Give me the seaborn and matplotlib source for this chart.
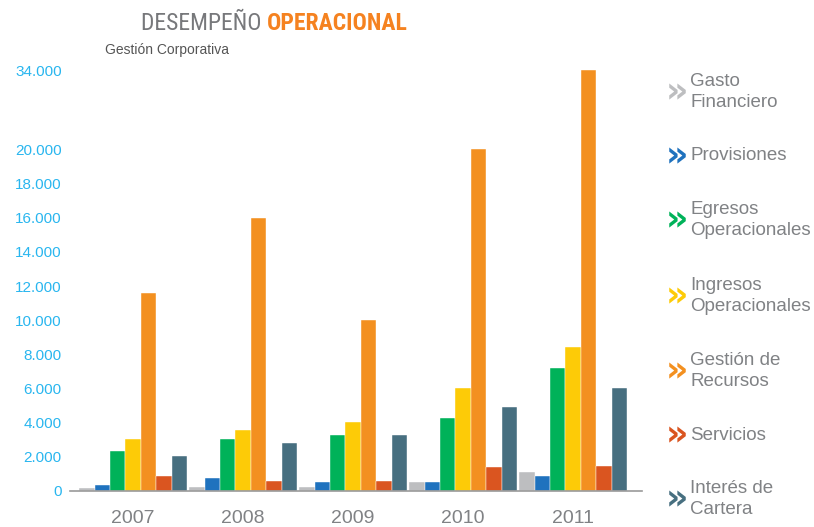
import matplotlib
matplotlib.use("Agg")
import matplotlib.pyplot as plt
import seaborn as sns
import numpy as np
import pandas as pd
from matplotlib import font_manager

# Data
years = ["2007", "2008", "2009", "2010", "2011"]
series_names = ["Gasto Financiero", "Provisiones", "Egresos Operacionales",
                "Ingresos Operacionales", "Gestión de Recursos", "Servicios",
                "Interés de Cartera"]
gasto_financiero = [180, 250, 250, 500, 1100]
provisiones = [350, 750, 500, 500, 850]
egresos_operacionales = [2350, 3050, 3300, 4300, 7200]
ingresos_operacionales = [3050, 3600, 4050, 6050, 8450]
gestion_recursos = [11600, 16000, 10000, 20000, 34000]
servicios = [850, 600, 600, 1400, 1450]
interes_cartera = [2050, 2800, 3300, 4900, 6050]
y_ticks = [0, 2000, 4000, 6000, 8000, 10000, 12000, 14000, 16000, 18000, 20000, 34000]

colors = ["#BDBEC0", "#1F72BE", "#00B259", "#FDCB07", "#F39020", "#DA5520", "#476F80"]
legend_labels = ["Gasto\nFinanciero", "Provisiones", "Egresos\nOperacionales",
                 "Ingresos\nOperacionales", "Gestión de\nRecursos", "Servicios",
                 "Interés de\nCartera"]

values = [gasto_financiero, provisiones, egresos_operacionales, ingresos_operacionales,
          gestion_recursos, servicios, interes_cartera]
df = pd.DataFrame([
    {"year": y, "serie": name, "value": v}
    for name, vals in zip(series_names, values)
    for y, v in zip(years, vals)
])

sns.set_style("white")
plt.rcParams['font.family'] = ['Liberation Sans', 'DejaVu Sans']

# pick a condensed face for the title if one is installed
installed = {f.name for f in font_manager.fontManager.ttflist}
title_family = 'Liberation Sans'
title_size = 15
for cand in ['Liberation Sans Narrow', 'DejaVu Sans Condensed', 'Roboto Condensed',
             'Open Sans Condensed', 'Noto Sans Condensed']:
    if cand in installed:
        title_family = cand
        title_size = 17
        break

# axis is compressed above 20.000
K = 0.332


def fwd(v):
    v = np.asarray(v, dtype=float)
    return np.where(v <= 20000, v, 20000 + (v - 20000) * K)


def inv(u):
    u = np.asarray(u, dtype=float)
    return np.where(u <= 20000, u, 20000 + (u - 20000) / K)


fig = plt.figure(figsize=(8.14, 5.27), dpi=100)
fig.subplots_adjust(left=70/814, right=642/814, bottom=1-491/527, top=1-70/527)
ax = fig.add_subplot(111)

sns.barplot(data=df, x="year", y="value", hue="serie", order=years,
            hue_order=series_names, palette=colors, saturation=1, width=0.98, gap=0,
            edgecolor="white", linewidth=0.3, legend=False, ax=ax)

ax.set_yscale('function', functions=(fwd, inv))
ax.set_ylim(0, 34000)
ax.set_xlim(-0.573, 4.627)
ax.set_yticks(y_ticks)
ax.set_yticklabels([f"{v:,}".replace(",", ".") for v in y_ticks])
ax.yaxis.set_minor_locator(matplotlib.ticker.NullLocator())
ax.tick_params(axis='y', length=0, labelsize=11, labelcolor="#29B6EF", pad=6)
ax.tick_params(axis='x', length=0, labelsize=14, labelcolor="#808285", pad=14)
ax.set_xlabel("")
ax.set_ylabel("")
for s in ["top", "right", "left"]:
    ax.spines[s].set_visible(False)
ax.spines["bottom"].set_color("#9A9A9A")
ax.spines["bottom"].set_linewidth(1.2)
ax.grid(False)

# Title
t1 = fig.text(141/814, 1-23/527, "DESEMPEÑO ", fontsize=title_size, color="#77787B",
              family=[title_family, 'DejaVu Sans'], va='center')
fig.canvas.draw()
bb = t1.get_window_extent()
fig.text(bb.x1/814, 1-23/527, "OPERACIONAL", fontsize=title_size, color="#F58220",
         family=[title_family, 'DejaVu Sans'], fontweight='bold', va='center')
fig.text(105/814, 1-50/527, "Gestión Corporativa", fontsize=10, color="#555555",
         va='center')

# Legend on the right
legend_y = [92, 156, 220, 296, 371, 435, 499]
for lab, col, yy in zip(legend_labels, colors, legend_y):
    fig.text(666/814, 1-yy/527, "»", fontsize=25, fontweight='bold', color=col,
             va='center', family=['DejaVu Sans'])
    fig.text(690/814, 1-yy/527, lab, fontsize=13.5, color="#808285",
             va='center', linespacing=1.3)

fig.savefig("out.png", dpi=100)
